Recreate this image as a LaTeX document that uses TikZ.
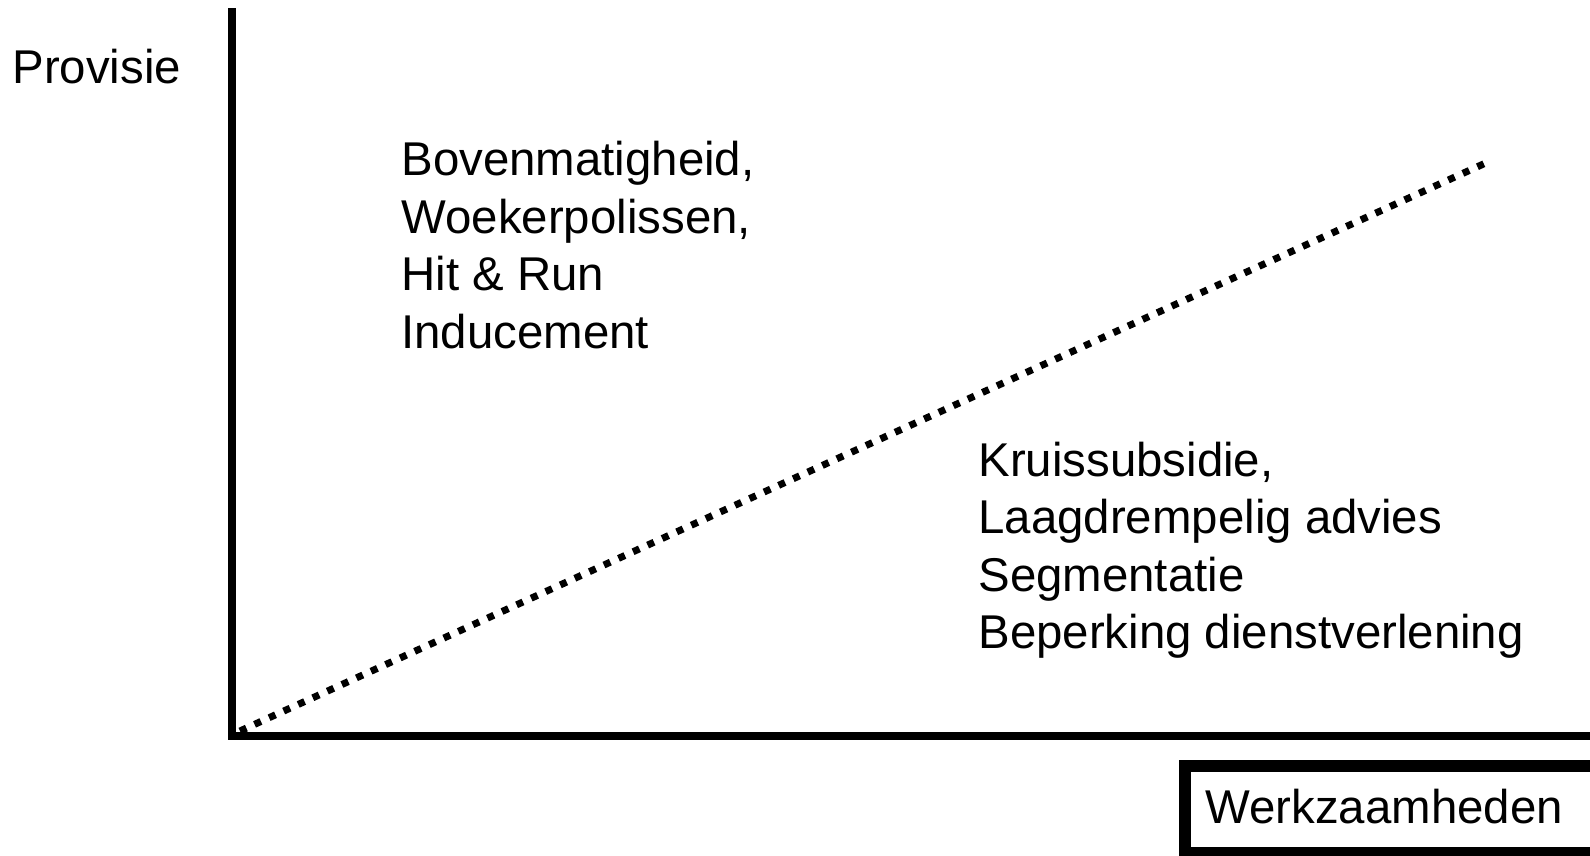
\documentclass[tikz,border=0pt]{standalone}
\usepackage{fontspec}
\setmainfont{Liberation Sans}
\usepackage{tikz}

\tikzset{
  axisline/.style={line width=4pt, line cap=rect},
  dotline/.style={line width=3.5pt, dash pattern=on 3.5pt off 4.5pt},
  lbl/.style={inner sep=0pt, font=\fontsize{23.7}{28.75}\selectfont, align=left},
  framebox/.style={line width=6pt}
}

\begin{document}
\begin{tikzpicture}[x=0.5pt, y=-0.5pt]
        \useasboundingbox (0,0) rectangle (1590,856);
        \clip (0,0) rectangle (1590,856);
        % Axes
        \coordinate (O) at (232,735.5);
        \coordinate (Ytop) at (232,12);
        \coordinate (Xend) at (1600,735.5);
        \draw[axisline] (Ytop) -- (O) -- (Xend);
        % Dotted boundary
        \coordinate (Dstart) at (240,731);
        \coordinate (Dend) at (1490,161);
        \draw[dotline] (Dstart) -- (Dend);
        % Labels
        \node[lbl, anchor=base west] (provisie) at (12,84) {Provisie};
        \node[lbl, anchor=north west] (boven) at (401,141) {Bovenmatigheid,\\Woekerpolissen,\\Hit \& Run\\Inducement};
        \node[lbl, anchor=north west] (onder) at (978,441.5) {Kruissubsidie,\\Laagdrempelig advies\\Segmentatie\\Beperking dienstverlening};
        % Box at the x axis
        \draw[framebox] (1185,766) rectangle (1620,852.5);
        \node[lbl, anchor=base west] (werk) at (1205,823) {Werkzaamheden};
    \end{tikzpicture}
\end{document}
